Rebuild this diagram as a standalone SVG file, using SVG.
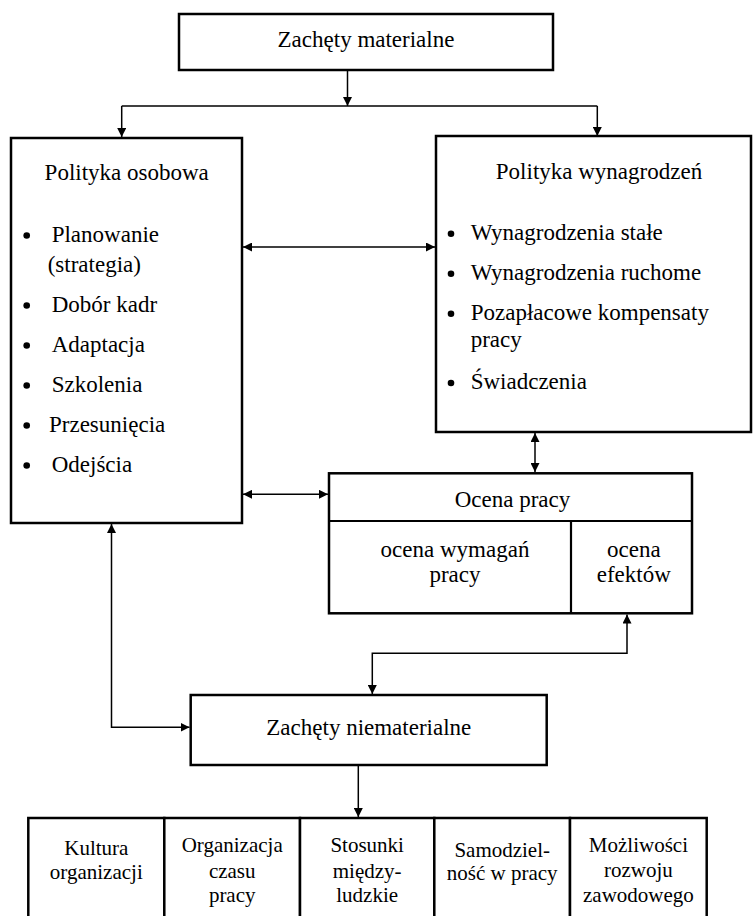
<svg xmlns="http://www.w3.org/2000/svg" width="753" height="916" viewBox="0 0 753 916">
<style>
  .box { fill: #ffffff; stroke: #000000; stroke-width: 2.5; }
  .div { fill: none; stroke: #000000; stroke-width: 2.2; }
  .conn { fill: none; stroke: #000000; stroke-width: 1.5; }
  .t23 { font-size: 23px; fill: #000000; }
  .t21 { font-size: 21px; fill: #000000; }
  .mid { text-anchor: middle; }
  .dot { fill: #000000; }
</style>
<defs>
  <marker id="ah" viewBox="0 0 9 9" refX="9" refY="4.5" markerWidth="9" markerHeight="9" markerUnits="userSpaceOnUse" orient="auto-start-reverse">
    <path d="M0,0 L9,4.5 L0,9 z" fill="#000000"/>
  </marker>
</defs>
<rect width="753" height="916" fill="#ffffff"/>

<g id="connectors">
  <path class="conn" d="M347.5,70 V106" marker-end="url(#ah)"/>
  <path class="conn" d="M121.7,106 H597.3"/>
  <path class="conn" d="M121.7,106 V137" marker-end="url(#ah)"/>
  <path class="conn" d="M597.3,106 V136" marker-end="url(#ah)"/>
  <path class="conn" d="M243,247 H435" marker-start="url(#ah)" marker-end="url(#ah)"/>
  <path class="conn" d="M535,433 V472" marker-start="url(#ah)" marker-end="url(#ah)"/>
  <path class="conn" d="M243,494.3 H328" marker-start="url(#ah)" marker-end="url(#ah)"/>
  <path class="conn" d="M111.5,524 V727.3 H189.5" marker-start="url(#ah)" marker-end="url(#ah)"/>
  <path class="conn" d="M627,614.5 V653.3 H372.3 V694" marker-start="url(#ah)" marker-end="url(#ah)"/>
  <path class="conn" d="M358.3,765 V817" marker-end="url(#ah)"/>
</g>

<g font-family="Liberation Serif, serif">
<g id="zachety-materialne">
  <rect class="box" x="179" y="14" width="374" height="56"/>
  <text class="t23 mid" x="366" y="47">Zachęty materialne</text>
</g>

<g id="polityka-osobowa">
  <rect class="box" x="11" y="138" width="231" height="385"/>
  <text class="t23 mid" x="126.7" y="180">Polityka osobowa</text>
  <circle class="dot" cx="26.7" cy="235.5" r="3.3"/>
  <text class="t23" x="51.7" y="241.7">Planowanie</text>
  <text class="t23" x="47.7" y="271.7">(strategia)</text>
  <circle class="dot" cx="26.7" cy="305.5" r="3.3"/>
  <text class="t23" x="51.7" y="311.7">Dobór kadr</text>
  <circle class="dot" cx="26.7" cy="345.5" r="3.3"/>
  <text class="t23" x="51.7" y="351.7">Adaptacja</text>
  <circle class="dot" cx="26.7" cy="385.5" r="3.3"/>
  <text class="t23" x="51.7" y="391.7">Szkolenia</text>
  <circle class="dot" cx="26.7" cy="425.5" r="3.3"/>
  <text class="t23" x="49" y="431.7">Przesunięcia</text>
  <circle class="dot" cx="26.7" cy="465.5" r="3.3"/>
  <text class="t23" x="51.7" y="471.7">Odejścia</text>
</g>

<g id="polityka-wynagrodzen">
  <rect class="box" x="436" y="136" width="315" height="296"/>
  <text class="t23 mid" x="599" y="179">Polityka wynagrodzeń</text>
  <circle class="dot" cx="451" cy="233.8" r="3.3"/>
  <text class="t23" x="470.7" y="240">Wynagrodzenia stałe</text>
  <circle class="dot" cx="451" cy="273.8" r="3.3"/>
  <text class="t23" x="470.7" y="280">Wynagrodzenia ruchome</text>
  <circle class="dot" cx="451" cy="313.8" r="3.3"/>
  <text class="t23" x="470.7" y="320">Pozapłacowe kompensaty</text>
  <text class="t23" x="470.7" y="346.7">pracy</text>
  <circle class="dot" cx="451" cy="383" r="3.3"/>
  <text class="t23" x="470.7" y="389.3">Świadczenia</text>
</g>

<g id="ocena-pracy">
  <rect class="box" x="329" y="473.3" width="363" height="140"/>
  <path class="div" d="M329,521 H692 M571,521 V613.3"/>
  <text class="t23 mid" x="512.5" y="506.7">Ocena pracy</text>
  <text class="t23 mid" x="455" y="556.7">ocena wymagań</text>
  <text class="t23 mid" x="455" y="581.7">pracy</text>
  <text class="t23 mid" x="633.8" y="556.7">ocena</text>
  <text class="t23 mid" x="633.8" y="581.7">efektów</text>
</g>

<g id="zachety-niematerialne">
  <rect class="box" x="190.7" y="695" width="356" height="70"/>
  <text class="t23 mid" x="368.8" y="735">Zachęty niematerialne</text>
</g>

<g id="kultura-organizacji">
  <rect class="box" x="28.3" y="818" width="136" height="110"/>
  <text class="t21 mid" x="96.3" y="855.3">Kultura</text>
  <text class="t21 mid" x="96.3" y="879.3">organizacji</text>
</g>
<g id="organizacja-czasu-pracy">
  <rect class="box" x="164.3" y="818" width="135.7" height="110"/>
  <text class="t21 mid" x="232.2" y="851.7">Organizacja</text>
  <text class="t21 mid" x="232.2" y="877.7">czasu</text>
  <text class="t21 mid" x="232.2" y="902.3">pracy</text>
</g>
<g id="stosunki-miedzyludzkie">
  <rect class="box" x="300" y="818" width="134.3" height="110"/>
  <text class="t21 mid" x="367.2" y="851.7">Stosunki</text>
  <text class="t21 mid" x="367.2" y="877.7">między-</text>
  <text class="t21 mid" x="367.2" y="902.3">ludzkie</text>
</g>
<g id="samodzielnosc">
  <rect class="box" x="434.3" y="818" width="135.7" height="110"/>
  <text class="t21 mid" x="502.2" y="856.7">Samodziel-</text>
  <text class="t21 mid" x="502.2" y="880">ność w pracy</text>
</g>
<g id="mozliwosci-rozwoju">
  <rect class="box" x="570" y="818" width="136.7" height="110"/>
  <text class="t21 mid" x="638.4" y="851.7">Możliwości</text>
  <text class="t21 mid" x="638.4" y="877.3">rozwoju</text>
  <text class="t21 mid" x="638.4" y="901.7">zawodowego</text>
</g>
</g>
</svg>
